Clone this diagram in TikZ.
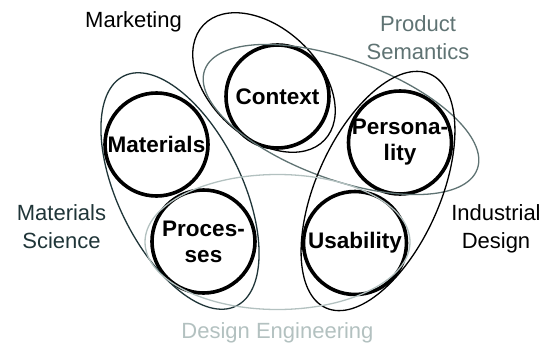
\documentclass[tikz,border=0pt]{standalone}
\usepackage{fontspec}
\setmainfont{Liberation Sans}
\usetikzlibrary{shapes.geometric}
\definecolor{psgray}{HTML}{5F7373}
\definecolor{msdark}{HTML}{1F3538}
\definecolor{delight}{HTML}{B3C1C0}
\tikzset{
  core/.style={circle, draw=black, line width=3.6pt, minimum size=103pt, inner sep=0pt},
  coretext/.style={font=\fontsize{22.5}{26}\selectfont\bfseries, align=center, inner sep=0pt},
  field/.style={ellipse, draw, line width=1.3pt, inner sep=0pt},
  fieldtext/.style={font=\fontsize{22}{28}\selectfont, align=center, inner sep=0pt, anchor=base},
}
\begin{document}
\begin{tikzpicture}[x=1pt, y=-1pt]
\useasboundingbox (0,0) rectangle (544,343);
% core circles
\node[core] (ctx) at (277.5,96.5) {};
\node[core] (mat) at (156.5,144.5) {};
\node[core] (pro) at (203.5,241.5) {};
\node[core] (usa) at (355,243) {};
\node[core] (per) at (400,142.5) {};
% field ellipses
\node[field, draw=black, minimum width=167pt, minimum height=109pt, rotate=-43.5] (mkt) at (264,82.5) {};
\node[field, draw=psgray, minimum width=290pt, minimum height=120pt, rotate=-20] (ps) at (341,119.5) {};
\node[field, draw=msdark, minimum width=256pt, minimum height=124pt, rotate=-64] (ms) at (180,191) {};
\node[field, draw=black, minimum width=256pt, minimum height=124pt, rotate=66] (idl) at (378,191) {};
\node[field, draw=delight, minimum width=265pt, minimum height=135pt] (de) at (277.5,242) {};
% core texts
\node[coretext] (ctxl) at (ctx) {Context};
\node[coretext] (matl) at (mat) {Materials};
\node[coretext] (prol) at (pro) {Proces-\\ses};
\node[coretext] (usal) at (usa) {Usability};
\node[coretext] (perl) at (per) {Persona-\\lity};
% field labels
\node[fieldtext, text=black] (mktl) at (133.5,27) {Marketing};
\node[fieldtext, text=psgray] (psl) at (418,59) {Product\\Semantics};
\node[fieldtext, text=msdark] (msl) at (61.5,248) {Materials\\Science};
\node[fieldtext, text=black] (idll) at (496,248) {Industrial\\Design};
\node[fieldtext, text=delight] (del) at (277.5,338) {Design Engineering};
\end{tikzpicture}
\end{document}
